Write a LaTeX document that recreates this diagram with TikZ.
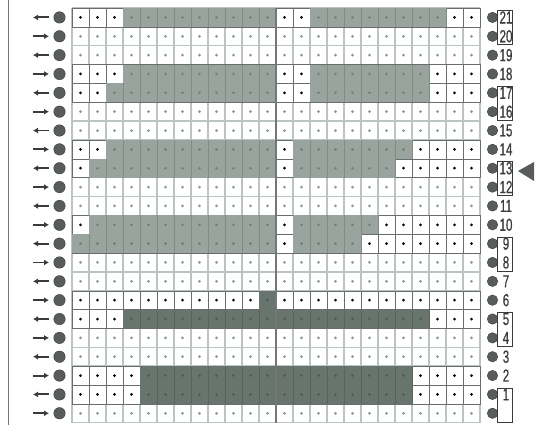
\documentclass[tikz,border=0pt]{standalone}
\usepackage{fontspec}
\usetikzlibrary{arrows.meta}
\newfontfamily\numfont[FakeStretch=0.66, FakeBold=0.6]{Liberation Sans}
\definecolor{chGrid}{RGB}{186,197,191}
\definecolor{chMid}{RGB}{153,164,158}
\definecolor{chDark}{RGB}{104,116,110}
\definecolor{chDot}{RGB}{140,150,145}
\definecolor{chBall}{RGB}{88,92,90}
\definecolor{chInk}{RGB}{58,60,59}

\begin{document}
\begin{tikzpicture}[
  x=1pt, y=-1pt,
  gridline/.style={draw=chGrid, line width=1.4pt},
  stitch/.style={draw=chInk!75, line width=0.5pt, fill=white},
  ball/.style={circle, fill=chBall, draw=chInk, line width=0.4pt, inner sep=0pt, minimum size=#1},
  rowlab/.style={font=\fontsize{17.5}{17.5}\selectfont\numfont, text=chInk, inner sep=0pt, anchor=center},
  pairbox/.style={draw=chInk, line width=0.7pt, minimum width=15pt, minimum height=34pt, inner sep=0pt},
  feed/.style={-{Latex[length=5pt, width=6pt]}, line width=1.9pt, draw=chInk},
]
\def\cw{17}  \def\rh{18.85}  \def\gx{72}  \def\gy{8}

\useasboundingbox (0,0) rectangle (541,425);

% --- Plain grid -------------------------------------------------------------
\fill[white] (\gx,\gy) rectangle ({\gx+24*\cw},{\gy+22*\rh});
\foreach \c in {0,...,24}
  \draw[gridline] ({\gx+\c*\cw},\gy) -- ({\gx+\c*\cw},{\gy+22*\rh});
\foreach \r in {0,...,22}
  \draw[gridline] (\gx,{\gy+\r*\rh}) -- ({\gx+24*\cw},{\gy+\r*\rh});
\foreach \r in {0,...,21}
  \foreach \c in {1,...,24}
    \fill[chDot] ({\gx+(\c-0.5)*\cw},{\gy+(21.5-\r)*\rh}) circle (1.5);

% --- Pattern rows: white stitches with black dots ---------------------------
\foreach \r in {21,18,17,14,13,10,9,6,5,2,1}
  \foreach \c in {1,...,24} {
    \draw[stitch] ({\gx+(\c-1)*\cw},{\gy+(21-\r)*\rh}) rectangle ({\gx+\c*\cw},{\gy+(22-\r)*\rh});
    \fill[black] ({\gx+(\c-0.5)*\cw},{\gy+(21.5-\r)*\rh}) circle (1.5);
  }

% --- Coloured blocks: row / first / last column / tone ----------------------
\foreach \r/\a/\b/\tone in {21/4/12/chMid, 21/15/22/chMid, 18/4/12/chMid, 18/15/21/chMid,
    17/3/12/chMid, 17/15/21/chMid, 14/3/12/chMid, 14/14/20/chMid,
    13/2/12/chMid, 13/14/19/chMid, 10/2/12/chMid, 10/14/18/chMid,
    9/1/12/chMid, 9/14/17/chMid,
    6/12/12/chDark, 5/4/21/chDark, 2/5/20/chDark, 1/5/20/chDark} {
  \fill[\tone] ({\gx+(\a-1)*\cw},{\gy+(21-\r)*\rh}) rectangle ({\gx+\b*\cw},{\gy+(22-\r)*\rh});
  \foreach \c in {\a,...,\b} {
    \draw[\tone!85!black, line width=0.6pt] ({\gx+\c*\cw},{\gy+(21-\r)*\rh}) -- ++(0,\rh);
    \fill[\tone!75!black] ({\gx+(\c-0.5)*\cw},{\gy+(21.5-\r)*\rh}) circle (1.4);
  }
}

% --- Centre line and left rule ----------------------------------------------
\draw[draw=chInk!70, line width=1.6pt] ({\gx+12*\cw},\gy) -- ({\gx+12*\cw},{\gy+22*\rh});
\draw[chInk!70, line width=0.8pt] (8,0) -- (8,425);

% --- Carriage direction and needle balls ------------------------------------
\foreach \r in {0,...,21} {
  \pgfmathsetmacro\ym{\gy+(21.5-\r)*\rh}
  \node[ball=11.5pt] (lball\r) at (59.5,\ym) {};
  \coordinate (lin\r) at (33,\ym);
  \coordinate (lout\r) at (49,\ym);
  \ifodd\r\relax \draw[feed] (lout\r) -- (lin\r); \else \draw[feed] (lin\r) -- (lout\r); \fi
  \node[ball=10.5pt] (rball\r) at (492.5,\ym) {};
}

% --- Row numbers and paired boxes -------------------------------------------
\foreach \r in {1,...,21}
  \node[rowlab] (lab\r) at (506,{\gy+(21.5-\r)*\rh}) {\r};
\foreach \r in {21,17,13,9,5,1}
  \node[pairbox] (pair\r) at (505,{\gy+(22-\r)*\rh+1}) {};

% --- Current row marker -----------------------------------------------------
\fill[chBall] (518,171) -- (534,162) -- (534,181) -- cycle;

\end{tikzpicture}
\end{document}
